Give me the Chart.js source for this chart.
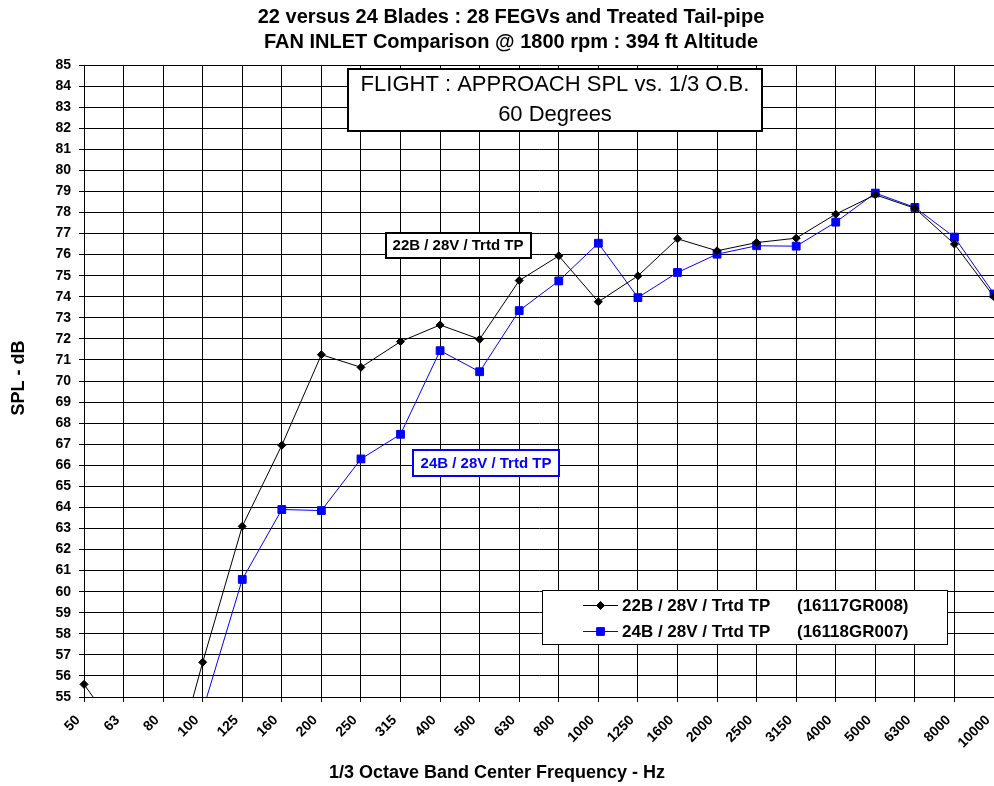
<!DOCTYPE html>
<html><head><meta charset="utf-8">
<script src="https://cdn.jsdelivr.net/npm/chart.js@4/dist/chart.umd.min.js"></script>
<style>html,body{margin:0;padding:0;background:#fff;overflow:hidden}</style>
</head><body>
<canvas id="c" width="994" height="786"></canvas>
<script>
// ---- data ----
const frequencies = ['50','63','80','100','125','160','200','250','315','400','500','630','800','1000','1250','1600','2000','2500','3150','4000','5000','6300','8000','10000'];
const spl22B = [55.6, 53.0, 49.8, 56.65, 63.1, 66.95, 71.25, 70.65, 71.87, 72.66, 71.98, 74.77, 75.94, 73.76, 74.99, 76.75, 76.18, 76.57, 76.78, 77.92, 78.84, 78.2, 76.5, 74.0];
const spl24B = [null, null, null, 54.35, 60.58, 63.9, 63.85, 66.3, 67.47, 71.44, 70.44, 73.34, 74.75, 76.54, 73.96, 75.15, 76.02, 76.42, 76.4, 77.54, 78.92, 78.24, 76.83, 74.13];
const yMin = 55, yMax = 85, yStep = 1;
const seriesNames = ['22B / 28V / Trtd TP', '24B / 28V / Trtd TP'];
const runIds = ['(16117GR008)', '(16118GR007)'];
const titleLines = ['22 versus 24 Blades : 28 FEGVs and Treated Tail-pipe', 'FAN INLET Comparison @ 1800 rpm : 394 ft Altitude'];
const boxLines = ['FLIGHT : APPROACH SPL vs. 1/3 O.B.', '60 Degrees'];
const xTitle = '1/3 Octave Band Center Frequency - Hz';
const yTitle = 'SPL - dB';

const FONT = '"Liberation Sans", Arial, sans-serif';
Chart.defaults.font.family = FONT;
Chart.defaults.color = '#000';

function textBox(ctx, text, cx, cy, w, h, color, font) {
  const x = Math.round(cx - w / 2), y = Math.round(cy - h / 2);
  ctx.save();
  ctx.fillStyle = '#fff';
  ctx.fillRect(x, y, w, h);
  ctx.lineWidth = 2;
  ctx.strokeStyle = color;
  ctx.strokeRect(x + 1, y + 1, w - 2, h - 2);
  ctx.fillStyle = color;
  ctx.font = font;
  ctx.textAlign = 'center';
  ctx.textBaseline = 'middle';
  ctx.fillText(text, cx, cy + 1);
  ctx.restore();
}

const decor = {
  id: 'decor',
  afterDraw(chart) {
    const ctx = chart.ctx;
    ctx.save();
    ctx.fillStyle = '#000';
    ctx.textAlign = 'center';
    ctx.textBaseline = 'middle';
    ctx.font = 'bold 20px ' + FONT;
    ctx.fillText(titleLines[0], 511, 17);
    ctx.fillText(titleLines[1], 511, 42);
    // axis titles
    ctx.font = 'bold 18px ' + FONT;
    ctx.fillText(xTitle, 497, 773);
    ctx.save();
    ctx.translate(19, 378);
    ctx.rotate(-Math.PI / 2);
    ctx.fillText(yTitle, 0, 0);
    ctx.restore();
    // main label box
    ctx.fillStyle = '#fff';
    ctx.fillRect(347, 68, 416, 64);
    ctx.lineWidth = 2;
    ctx.strokeStyle = '#000';
    ctx.strokeRect(348, 69, 414, 62);
    ctx.fillStyle = '#000';
    ctx.font = '22px ' + FONT;
    ctx.fillText(boxLines[0], 555, 85);
    ctx.fillText(boxLines[1], 555, 115);
    ctx.restore();
    // series annotation boxes
    textBox(ctx, seriesNames[0], 458, 245, 147, 27, '#000', 'bold 15px ' + FONT);
    textBox(ctx, seriesNames[1], 486, 463, 148, 28, '#0000ff', 'bold 15px ' + FONT);
    // legend
    ctx.save();
    ctx.fillStyle = '#fff';
    ctx.fillRect(542, 590, 406, 55);
    ctx.lineWidth = 1;
    ctx.strokeStyle = '#000';
    ctx.strokeRect(542.5, 590.5, 405, 54);
    const rows = [605, 631];
    chart.data.datasets.forEach((ds, i) => {
      const y = rows[i];
      ctx.strokeStyle = ds.borderColor;
      ctx.fillStyle = ds.pointBackgroundColor;
      ctx.lineWidth = 1;
      ctx.beginPath();
      ctx.moveTo(583, y + 0.5);
      ctx.lineTo(618, y + 0.5);
      ctx.stroke();
      Chart.helpers.drawPoint(ctx, {pointStyle: ds.pointStyle, radius: ds.pointRadius, borderWidth: 1}, 600.5, y + 0.5);
      ctx.fillStyle = '#000';
      ctx.font = 'bold 17px ' + FONT;
      ctx.textAlign = 'left';
      ctx.textBaseline = 'middle';
      ctx.fillText(seriesNames[i], 622, y + 1);
      ctx.fillText(runIds[i], 797, y + 1);
    });
    ctx.restore();
  }
};

new Chart(document.getElementById('c'), {
  type: 'line',
  data: {
    labels: frequencies,
    datasets: [
      {
        label: seriesNames[0] + '  ' + runIds[0],
        data: spl22B,
        borderColor: '#000',
        backgroundColor: '#000',
        borderWidth: 1,
        pointStyle: 'rectRot',
        pointRadius: 4,
        pointBorderWidth: 1,
        pointBackgroundColor: '#000',
        pointBorderColor: '#000',
        tension: 0,
        spanGaps: false,
        clip: {left: 6, right: 6, top: 0, bottom: 0}
      },
      {
        label: seriesNames[1] + '  ' + runIds[1],
        data: spl24B,
        borderColor: '#0000ff',
        backgroundColor: '#0000ff',
        borderWidth: 1,
        pointStyle: 'rect',
        pointRadius: 5.5,
        pointBorderWidth: 1,
        pointBackgroundColor: '#0000ff',
        pointBorderColor: '#0000ff',
        tension: 0,
        spanGaps: false,
        clip: {left: 6, right: 6, top: 0, bottom: 0}
      }
    ]
  },
  options: {
    responsive: false,
    animation: false,
    devicePixelRatio: 1,
    layout: {autoPadding: false, padding: {top: 65, left: 0, right: 0, bottom: 0}},
    plugins: {legend: {display: false}, title: {display: false}, tooltip: {enabled: false}},
    scales: {
      x: {
        type: 'category',
        offset: false,
        grid: {color: '#000', lineWidth: 1, tickLength: 5, tickColor: '#000'},
        border: {color: '#000', width: 1},
        ticks: {
          autoSkip: false, minRotation: 45, maxRotation: 45,
          font: {size: 14, weight: 'bold'}, color: '#000', padding: 10, labelOffset: -6
        },
        afterFit(scale) { scale.height = 89; scale.paddingLeft = 0; scale.paddingRight = 0; }
      },
      y: {
        min: yMin, max: yMax,
        grid: {color: '#000', lineWidth: 1, tickLength: 5, tickColor: '#000'},
        border: {color: '#000', width: 1},
        ticks: {stepSize: yStep, font: {size: 14, weight: 'bold'}, color: '#000', padding: 8},
        afterFit(scale) { scale.width = 84; scale.paddingTop = 0; scale.paddingBottom = 0; }
      }
    }
  },
  plugins: [decor]
});
</script>
</body></html>
